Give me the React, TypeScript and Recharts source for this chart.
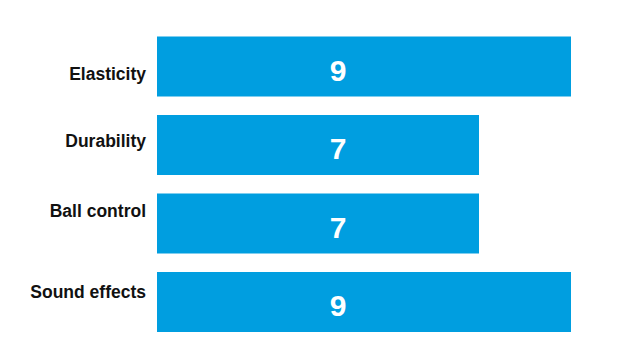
import { BarChart, Bar, XAxis, YAxis, LabelList } from 'recharts';

const categories = ['Elasticity', 'Durability', 'Ball control', 'Sound effects'];
const scores = [9, 7, 7, 9];

// the category labels in the source sit a little off the bar centres
const labelNudge = [8, -4, -12, -10];

const data = categories.map((name, i) => ({ name, score: scores[i] }));

const FONT = '"Liberation Sans", Arial, sans-serif';
const BAR_COLOR = '#009ee0';

const CategoryTick = ({ x, y, payload, index }: any) => (
  <text
    x={x - 3}
    y={y + (labelNudge[index] ?? 0)}
    textAnchor="end"
    dominantBaseline="central"
    fontFamily={FONT}
    fontWeight="bold"
    fontSize={17.5}
    fill="#111"
  >
    {payload.value}
  </text>
);

const ScoreLabel = ({ x, y, height, value }: any) => (
  <text
    x={x + 181}
    y={y + height / 2 + 4}
    textAnchor="middle"
    dominantBaseline="central"
    fontFamily={FONT}
    fontWeight="bold"
    fontSize={30}
    fill="#fff"
  >
    {value}
  </text>
);

export default function App() {
  return (
    <div style={{ width: 619, height: 360, background: '#fff' }}>
      <style>{`body{margin:0}`}</style>
      <BarChart
        width={619}
        height={360}
        data={data}
        layout="vertical"
        margin={{ top: 27, right: 2, bottom: 19, left: 0 }}
        barCategoryGap="12%"
      >
        <XAxis type="number" domain={[0, 10]} hide />
        <YAxis
          type="category"
          dataKey="name"
          width={157}
          axisLine={false}
          tickLine={false}
          tick={<CategoryTick />}
          interval={0}
        />
        <Bar dataKey="score" fill={BAR_COLOR} isAnimationActive={false}>
          <LabelList dataKey="score" content={<ScoreLabel />} />
        </Bar>
      </BarChart>
    </div>
  );
}
